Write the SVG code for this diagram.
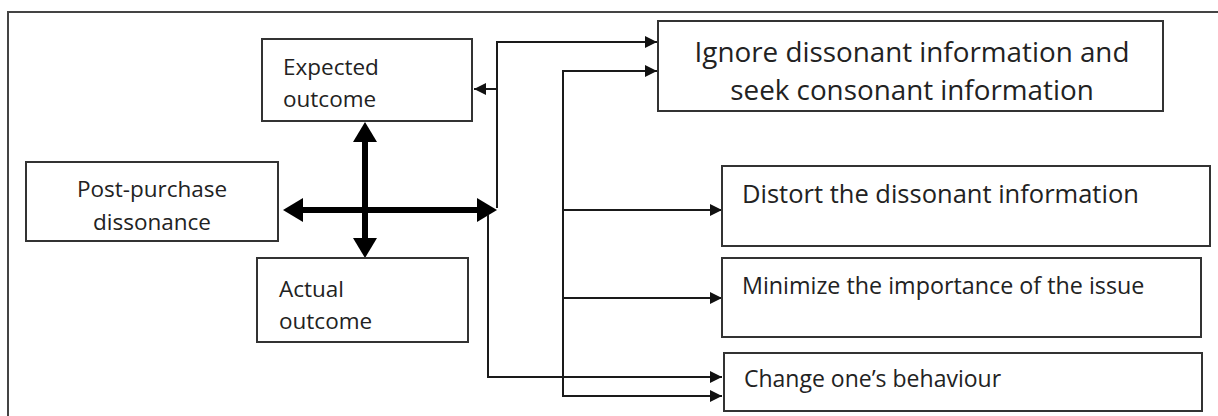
<svg xmlns="http://www.w3.org/2000/svg" width="1218" height="416" viewBox="0 0 1218 416">
<style>
.box{fill:#fff;stroke:#333;stroke-width:2}
.t{font-family:"Open Sans","DejaVu Sans",sans-serif;fill:#222}
.b{font-size:22.5px}
.ln{fill:none;stroke:#1a1a1a;stroke-width:2}
.thick{fill:none;stroke:#000;stroke-width:6}
</style>
<defs>
<marker id="a" viewBox="0 0 10 10" refX="10" refY="5" markerWidth="13" markerHeight="12" markerUnits="userSpaceOnUse" orient="auto"><path d="M0,0L10,5L0,10z" fill="#111"/></marker>
<marker id="A" viewBox="0 0 10 12" refX="0" refY="6" markerWidth="20" markerHeight="24" markerUnits="userSpaceOnUse" orient="auto-start-reverse"><path d="M0,0L10,6L0,12z" fill="#000"/></marker>
</defs>
<rect width="1218" height="416" fill="#fff"/>
<rect x="8" y="12" width="1222" height="420" fill="none" stroke="#444" stroke-width="2"/>
<g id="connectors">
<path class="thick" d="M303,210H477" marker-start="url(#A)" marker-end="url(#A)"/>
<path class="thick" d="M365,142V238" marker-start="url(#A)" marker-end="url(#A)"/>
<path class="ln" d="M497,208V42H657" marker-end="url(#a)"/>
<path class="ln" d="M497,89H474" marker-end="url(#a)"/>
<path class="ln" d="M488,215V377H722" marker-end="url(#a)"/>
<path class="ln" d="M563,396V71H657" marker-end="url(#a)"/>
<path class="ln" d="M562,396H722" marker-end="url(#a)"/>
<path class="ln" d="M563,210H722" marker-end="url(#a)"/>
<path class="ln" d="M563,298H722" marker-end="url(#a)"/>
</g>
<g id="expected">
<rect class="box" x="262" y="39" width="210" height="82"/>
<text class="t b" x="283" y="75">Expected</text>
<text class="t b" x="283" y="107">outcome</text>
</g>
<g id="post">
<rect class="box" x="26" y="162" width="252" height="79"/>
<text class="t b" x="152" y="197" text-anchor="middle">Post-purchase</text>
<text class="t b" x="152" y="230" text-anchor="middle">dissonance</text>
</g>
<g id="actual">
<rect class="box" x="257" y="258" width="211" height="84"/>
<text class="t b" x="279" y="297">Actual</text>
<text class="t b" x="279" y="329">outcome</text>
</g>
<g id="ignore">
<rect class="box" x="658" y="21" width="505" height="90"/>
<text class="t" font-size="27.8" x="912" y="62" text-anchor="middle">Ignore dissonant information and</text>
<text class="t" font-size="27.8" x="912" y="100" text-anchor="middle">seek consonant information</text>
</g>
<g id="distort">
<rect class="box" x="722" y="166" width="488" height="80"/>
<text class="t" font-size="25.5" x="742" y="203">Distort the dissonant information</text>
</g>
<g id="minimize">
<rect class="box" x="722" y="258" width="479" height="79"/>
<text class="t" font-size="23.3" x="742" y="294">Minimize the importance of the issue</text>
</g>
<g id="change">
<rect class="box" x="724" y="353" width="478" height="58"/>
<text class="t" font-size="23" x="744" y="387">Change one’s behaviour</text>
</g>
</svg>
